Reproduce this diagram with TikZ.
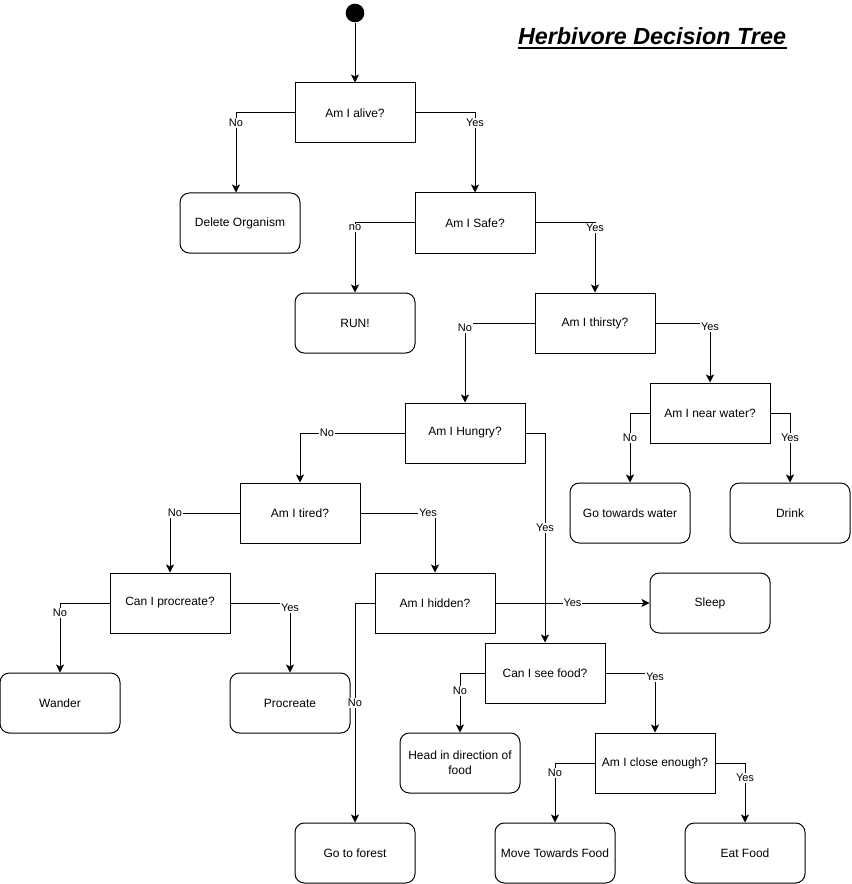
\documentclass[tikz,border=0pt]{standalone}
\usepackage{fontspec}
\setmainfont{Liberation Sans}
\usetikzlibrary{arrows.meta}

\begin{document}
\begin{tikzpicture}[x=0.75pt,y=-0.75pt,line width=0.75pt,
    question/.style={draw,rectangle,minimum width=90pt,minimum height=45pt,inner sep=1pt,align=center,font=\fontsize{9}{11}\selectfont},
    action/.style={question,rounded corners=7pt},
    answer/.style={fill=white,inner sep=0.6pt,font=\fontsize{8.25}{10}\selectfont},
    flow/.style={-{Stealth[length=6pt,width=6pt,inset=1.5pt]}}]
  \useasboundingbox (0,0) rectangle (851,884);

  \node[circle,fill,minimum size=14pt,inner sep=0pt] (start) at (355,13) {};
  \node[anchor=base,inner sep=0pt,font=\fontsize{17.5}{20}\selectfont\bfseries\itshape] (title) at (652,45) {Herbivore Decision Tree};
  \draw[line width=1.4pt] ([yshift=-2pt]title.base west) -- ([yshift=-2pt]title.base east);

  \foreach \n/\x/\y/\t in {alive/355/113/Am I alive?, safe/475/223/Am I Safe?, thirsty/595/323/Am I thirsty?,
      hungry/465/433/Am I Hungry?, near/710/413/Am I near water?, tired/300/513/Am I tired?,
      canproc/170/603/Can I procreate?, hidden/435/603/Am I hidden?, see/545/673/Can I see food?,
      close/655/763/Am I close enough?}
    \node[question] (\n) at (\x,\y) {\t};

  \foreach \n/\x/\y/\t in {del/240/223/Delete Organism, run/355/323/RUN!, gowater/630/513/Go towards water,
      drink/790/513/Drink, sleep/710/603/Sleep, wander/60/703/Wander, procreate/290/703/Procreate,
      head/460/763/Head in direction of\\food, forest/355/853/Go to forest, move/555/853/Move Towards Food,
      eat/745/853/Eat Food}
    \node[action] (\n) at (\x,\y) {\t};

  \coordinate (deltop) at ([xshift=-3pt]del.north);

  \draw[flow] (start) -- (alive);
  \foreach \a/\s/\b/\l/\dx/\dy in {alive/west/deltop/No/0/10, alive/east/safe.north/Yes/0/10,
      safe/west/run.north/no/0/5, safe/east/thirsty.north/Yes/0/5,
      thirsty/west/hungry.north/No/0/5, thirsty/east/near.north/Yes/0/4,
      near/west/gowater.north/No/0/25, near/east/drink.north/Yes/0/25,
      hungry/west/tired.north/No/27/0, hungry/east/see.north/Yes/0/95,
      tired/west/canproc.north/No/5/0, tired/east/hidden.north/Yes/-7/0,
      canproc/west/wander.north/No/0/10, canproc/east/procreate.north/Yes/0/5,
      hidden/west/forest.north/No/0/100, see/west/head.north/No/0/18,
      see/east/close.north/Yes/0/4, close/west/move.north/No/0/10,
      close/east/eat.north/Yes/0/15}
    \draw[flow] (\a.\s) -| node[answer,pos=0.5,shift={(\dx,\dy)}] {\l} (\b);
  \draw[flow] (hidden) -- node[answer] {Yes} (sleep);
\end{tikzpicture}
\end{document}
